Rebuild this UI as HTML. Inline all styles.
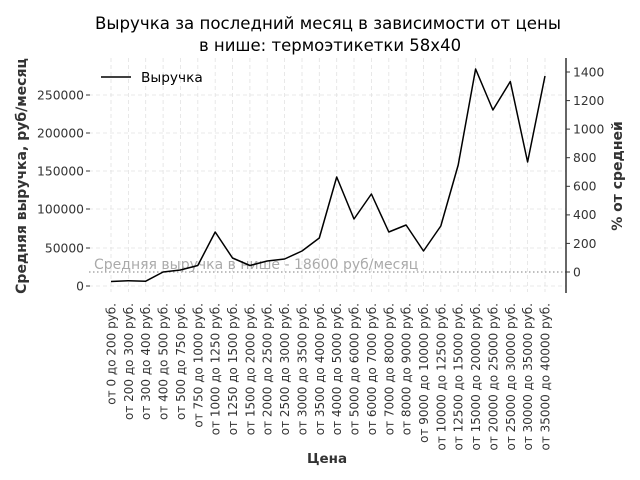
<!DOCTYPE html>
<html><head><meta charset="utf-8"><style>
html,body{margin:0;padding:0;background:#fff;}
svg{display:block;font-family:"DejaVu Sans","Liberation Sans",sans-serif;}
</style></head><body>
<svg width="640" height="480" viewBox="0 0 640 480" xmlns="http://www.w3.org/2000/svg">
<rect width="640" height="480" fill="#fff"/>
<text x="328" y="29" font-size="16.5" text-anchor="middle" fill="#000" textLength="466" lengthAdjust="spacingAndGlyphs">Выручка за последний месяц в зависимости от цены</text>
<text x="330" y="51" font-size="16.5" text-anchor="middle" fill="#000">в нише: термоэтикетки 58x40</text>
<g stroke="#e2e2e2" stroke-width="0.8" stroke-dasharray="4,3">
<line x1="89" y1="95" x2="566" y2="95"/><line x1="89" y1="133" x2="566" y2="133"/><line x1="89" y1="171" x2="566" y2="171"/><line x1="89" y1="209" x2="566" y2="209"/><line x1="89" y1="248" x2="566" y2="248"/><line x1="89" y1="286" x2="566" y2="286"/>
<line x1="111" y1="58" x2="111" y2="292"/><line x1="128.4" y1="58" x2="128.4" y2="292"/><line x1="145.7" y1="58" x2="145.7" y2="292"/><line x1="163.1" y1="58" x2="163.1" y2="292"/><line x1="180.4" y1="58" x2="180.4" y2="292"/><line x1="197.8" y1="58" x2="197.8" y2="292"/><line x1="215.2" y1="58" x2="215.2" y2="292"/><line x1="232.5" y1="58" x2="232.5" y2="292"/><line x1="249.9" y1="58" x2="249.9" y2="292"/><line x1="267.2" y1="58" x2="267.2" y2="292"/><line x1="284.6" y1="58" x2="284.6" y2="292"/><line x1="302" y1="58" x2="302" y2="292"/><line x1="319.3" y1="58" x2="319.3" y2="292"/><line x1="336.7" y1="58" x2="336.7" y2="292"/><line x1="354" y1="58" x2="354" y2="292"/><line x1="371.4" y1="58" x2="371.4" y2="292"/><line x1="388.8" y1="58" x2="388.8" y2="292"/><line x1="406.1" y1="58" x2="406.1" y2="292"/><line x1="423.5" y1="58" x2="423.5" y2="292"/><line x1="440.8" y1="58" x2="440.8" y2="292"/><line x1="458.2" y1="58" x2="458.2" y2="292"/><line x1="475.6" y1="58" x2="475.6" y2="292"/><line x1="492.9" y1="58" x2="492.9" y2="292"/><line x1="510.3" y1="58" x2="510.3" y2="292"/><line x1="527.6" y1="58" x2="527.6" y2="292"/><line x1="545" y1="58" x2="545" y2="292"/>
</g>
<line x1="89" y1="272" x2="566" y2="272" stroke="#aaa" stroke-width="1.5" stroke-dasharray="1.5,2.5"/>
<text x="94" y="269" font-size="14" fill="#aaa">Средняя выручка в нише - 18600 руб/месяц</text>
<polyline fill="none" stroke="#000" stroke-width="1.5" stroke-linejoin="round" points="111,281.5 128.4,280.7 145.7,281.2 163.1,272 180.4,270 197.8,265.5 215.2,232 232.5,258 249.9,265.5 267.2,261 284.6,259 302,251 319.3,238 336.7,177 354,219 371.4,194 388.8,232 406.1,225 423.5,251 440.8,226 458.2,165 475.6,69 492.9,110 510.3,81.5 527.6,162 545,76"/>
<g font-size="12.3" fill="#333" text-anchor="end">
<text x="84" y="99.5">250000</text><text x="84" y="137.5">200000</text><text x="84" y="175.5">150000</text><text x="84" y="213.5">100000</text><text x="84" y="252.5">50000</text><text x="84" y="290.5">0</text>
</g>
<g stroke="#333" stroke-width="1"><line x1="86" y1="95" x2="90" y2="95"/><line x1="86" y1="133" x2="90" y2="133"/><line x1="86" y1="171" x2="90" y2="171"/><line x1="86" y1="209" x2="90" y2="209"/><line x1="86" y1="248" x2="90" y2="248"/><line x1="86" y1="286" x2="90" y2="286"/></g>
<line x1="566" y1="58" x2="566" y2="293" stroke="#000" stroke-width="1.2"/>
<g stroke="#333" stroke-width="1"><line x1="566" y1="72" x2="570" y2="72"/><line x1="566" y1="100.6" x2="570" y2="100.6"/><line x1="566" y1="129.1" x2="570" y2="129.1"/><line x1="566" y1="157.7" x2="570" y2="157.7"/><line x1="566" y1="186.3" x2="570" y2="186.3"/><line x1="566" y1="214.9" x2="570" y2="214.9"/><line x1="566" y1="243.4" x2="570" y2="243.4"/><line x1="566" y1="272" x2="570" y2="272"/></g>
<g font-size="12.3" fill="#333">
<text x="573" y="76.5">1400</text><text x="573" y="105">1200</text><text x="573" y="133.5">1000</text><text x="573" y="162">800</text><text x="573" y="190.5">600</text><text x="573" y="219">400</text><text x="573" y="248">200</text><text x="573" y="276.5">0</text>
</g>
<text transform="translate(26,176) rotate(-90)" font-size="14" font-weight="bold" fill="#333" text-anchor="middle">Средняя выручка, руб/месяц</text>
<text transform="translate(622,176) rotate(-90)" font-size="14" font-weight="bold" fill="#333" text-anchor="middle">% от средней</text>
<text x="327" y="463" font-size="13.5" font-weight="bold" fill="#333" text-anchor="middle">Цена</text>
<line x1="101" y1="77" x2="131" y2="77" stroke="#000" stroke-width="1.5"/>
<text x="141" y="82" font-size="13.7" fill="#000">Выручка</text>
<g font-size="12" fill="#333" text-anchor="end">
<text transform="translate(115.5,303) rotate(-90)">от 0 до 200 руб.</text>
<text transform="translate(132.9,303) rotate(-90)">от 200 до 300 руб.</text>
<text transform="translate(150.2,303) rotate(-90)">от 300 до 400 руб.</text>
<text transform="translate(167.6,303) rotate(-90)">от 400 до 500 руб.</text>
<text transform="translate(184.9,303) rotate(-90)">от 500 до 750 руб.</text>
<text transform="translate(202.3,303) rotate(-90)">от 750 до 1000 руб.</text>
<text transform="translate(219.7,303) rotate(-90)">от 1000 до 1250 руб.</text>
<text transform="translate(237,303) rotate(-90)">от 1250 до 1500 руб.</text>
<text transform="translate(254.4,303) rotate(-90)">от 1500 до 2000 руб.</text>
<text transform="translate(271.7,303) rotate(-90)">от 2000 до 2500 руб.</text>
<text transform="translate(289.1,303) rotate(-90)">от 2500 до 3000 руб.</text>
<text transform="translate(306.5,303) rotate(-90)">от 3000 до 3500 руб.</text>
<text transform="translate(323.8,303) rotate(-90)">от 3500 до 4000 руб.</text>
<text transform="translate(341.2,303) rotate(-90)">от 4000 до 5000 руб.</text>
<text transform="translate(358.5,303) rotate(-90)">от 5000 до 6000 руб.</text>
<text transform="translate(375.9,303) rotate(-90)">от 6000 до 7000 руб.</text>
<text transform="translate(393.3,303) rotate(-90)">от 7000 до 8000 руб.</text>
<text transform="translate(410.6,303) rotate(-90)">от 8000 до 9000 руб.</text>
<text transform="translate(428,303) rotate(-90)">от 9000 до 10000 руб.</text>
<text transform="translate(445.3,303) rotate(-90)">от 10000 до 12500 руб.</text>
<text transform="translate(462.7,303) rotate(-90)">от 12500 до 15000 руб.</text>
<text transform="translate(480.1,303) rotate(-90)">от 15000 до 20000 руб.</text>
<text transform="translate(497.4,303) rotate(-90)">от 20000 до 25000 руб.</text>
<text transform="translate(514.8,303) rotate(-90)">от 25000 до 30000 руб.</text>
<text transform="translate(532.1,303) rotate(-90)">от 30000 до 35000 руб.</text>
<text transform="translate(549.5,303) rotate(-90)">от 35000 до 40000 руб.</text>
</g>
</svg>
</body></html>
